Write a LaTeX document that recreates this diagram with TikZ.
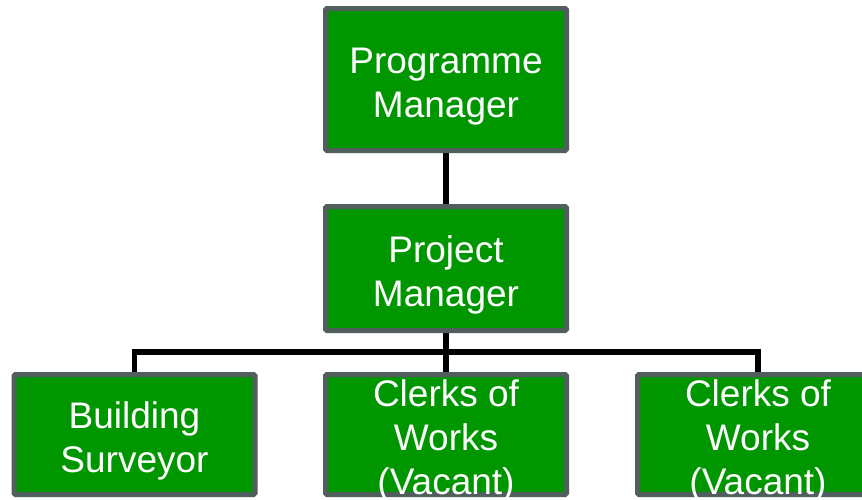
\documentclass[tikz,border=0pt]{standalone}
\usepackage{fontspec}
\setmainfont{Liberation Sans}
\usetikzlibrary{backgrounds}
\definecolor{boxgreen}{RGB}{0,150,0}
\definecolor{boxedge}{RGB}{80,94,94}
\newcommand{\boxtext}[1]{\raisebox{-13.7pt}[0pt][0pt]{\begin{tabular}{@{}c@{}}#1\end{tabular}}}
\tikzset{
  orgbox/.style={draw=boxedge, fill=boxgreen, line width=5pt, rounded corners=1.5pt,
    minimum width=241pt, inner sep=0pt, text=white,
    font=\fontsize{37}{44}\selectfont},
  link/.style={draw=black, line width=5.5pt, line join=miter, line cap=butt}
}
\begin{document}
\begin{tikzpicture}[x=1pt,y=-1pt]
\useasboundingbox (0,0) rectangle (862,499);
\node[orgbox, minimum height=142pt] (pgm) at (446,79.5) {\boxtext{Programme\\Manager}};
\node[orgbox, minimum height=124pt] (pm) at (446,268.5) {\boxtext{Project\\Manager}};
\node[orgbox, minimum height=120pt] (bs) at (134.5,434.5) {\boxtext{Building\\Surveyor}};
\node[orgbox, minimum height=120pt] (cw1) at (446,434.5) {\boxtext{Clerks of\\Works\\(Vacant)}};
\node[orgbox, minimum height=120pt] (cw2) at (758,434.5) {\boxtext{Clerks of\\Works\\(Vacant)}};
\coordinate (bar) at (446,352);
\begin{pgfonlayer}{background}
\draw[link] (pgm.south) -- (pm.north);
\draw[link] (pm.south) -- (cw1.north);
\draw[link] (bs.north) |- (bar) -| (cw2.north);
\end{pgfonlayer}
\end{tikzpicture}
\end{document}
